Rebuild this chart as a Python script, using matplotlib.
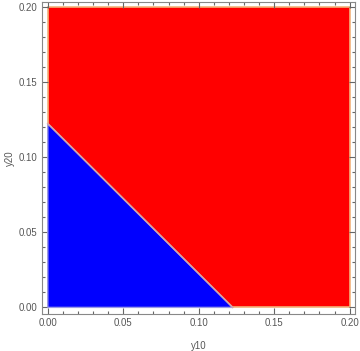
import matplotlib
matplotlib.use("Agg")
import matplotlib.pyplot as plt
from matplotlib.ticker import MultipleLocator, FormatStrFormatter

plt.rcParams['font.family'] = ['Liberation Sans', 'DejaVu Sans']

# Region data
x_range = [0.0, 0.2]
y_range = [0.0, 0.2]
intercept = 0.1225   # blue region: y10 + y20 < intercept
x_label = "y10"
y_label = "y20"

fig = plt.figure(figsize=(3.6, 3.51), dpi=100)
ax = fig.add_axes([0.116, 0.105, 0.87, 0.889])

# red square region
rx = [x_range[0], x_range[1], x_range[1], x_range[0]]
ry = [y_range[0], y_range[0], y_range[1], y_range[1]]
ax.fill(rx, ry, facecolor="#ff0000", edgecolor="#f2b27a", linewidth=1.2, zorder=1)

# blue triangle region
bx = [x_range[0], intercept, x_range[0]]
by = [y_range[0], y_range[0], intercept]
ax.fill(bx, by, facecolor="#0000ff", edgecolor="#9a9ae8", linewidth=1.0, zorder=2)
ax.plot([x_range[0], intercept], [intercept, y_range[0]], color="#d7a3a3", linewidth=1.2, zorder=3)

ax.set_xlim(-0.004, 0.2035)
ax.set_ylim(-0.0045, 0.2035)

for ax_ in (ax.xaxis, ax.yaxis):
    ax_.set_major_locator(MultipleLocator(0.05))
    ax_.set_minor_locator(MultipleLocator(0.01))
    ax_.set_major_formatter(FormatStrFormatter("%.2f"))

ax.tick_params(which="both", direction="in", top=True, right=True, color="#666666",
               labelcolor="#555555", labelsize=6.9, width=0.8)
ax.tick_params(which="major", length=4, pad=3)
ax.tick_params(which="minor", length=2.5)
for s in ax.spines.values():
    s.set_color("#888888")
    s.set_linewidth(0.8)

ax.set_xlabel(x_label, color="#555555", fontsize=6.9, labelpad=9)
ax.set_ylabel(y_label, color="#555555", fontsize=6.9, labelpad=3)

fig.savefig("out.png", dpi=100)
